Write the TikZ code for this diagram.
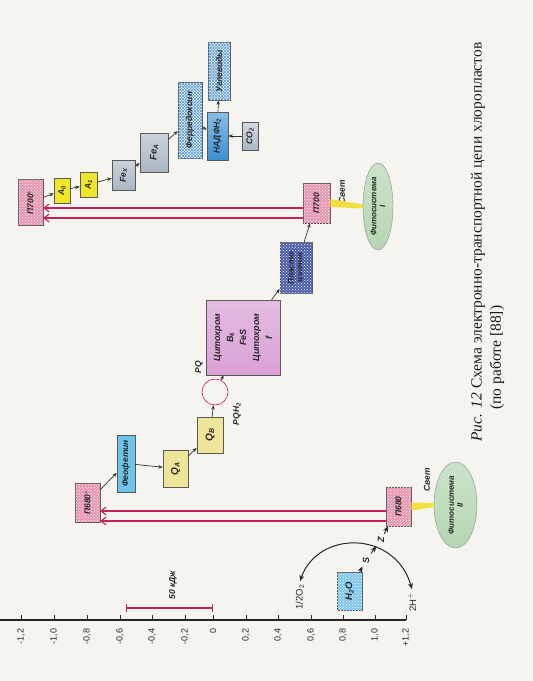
\documentclass[tikz,border=0pt]{standalone}
\usepackage{fontspec}
\setmainfont{Liberation Serif}
\newfontfamily\arialf{Liberation Sans}
\usetikzlibrary{arrows.meta,patterns,shapes.geometric,calc}
\definecolor{bgc}{HTML}{F6F4EE}
\definecolor{pinkc}{HTML}{E894AE}
\definecolor{magc}{HTML}{C8205A}
\definecolor{feoc}{HTML}{6EC3EA}
\definecolor{qc}{HTML}{EEE49A}
\definecolor{ac}{HTML}{F2E62A}
\definecolor{cytc}{HTML}{D9A0D6}
\definecolor{plcc}{HTML}{4A5CB0}
\definecolor{fec}{HTML}{A9B6C3}
\definecolor{fdc}{HTML}{5E9CCF}
\definecolor{nadc}{HTML}{3C8FD2}
\definecolor{h2oc}{HTML}{7CC6EE}
\definecolor{ellc}{HTML}{A9CFA5}
\definecolor{beamc}{HTML}{F2E040}
\tikzset{
 box/.style={draw=black!65, line width=0.5pt, rotate=90, inner sep=1pt, align=center,
   font=\arialf\bfseries\itshape\fontsize{8.5}{9}\selectfont, text=black!85},
 sz/.style 2 args={minimum height=#1, minimum width=#2},
 dotbox/.style={fill=#1, postaction={pattern=crosshatch dots, pattern color=white}},
 hatchbox/.style={fill=fdc!15, postaction={pattern=north east lines, pattern color=fdc},
   postaction={pattern=north west lines, pattern color=fdc}},
 arr/.style={-{Stealth[length=4.5pt,width=3.5pt]}, line width=0.7pt, black!80},
 bigarr/.style={-{Stealth[length=6pt,width=5pt]}, line width=0.9pt, black!85},
 mag/.style={draw=magc, line width=1.1pt, -{Straight Barb[length=5pt,width=8pt]}},
 lbl/.style={rotate=90, font=\arialf\bfseries\itshape\fontsize{8.5}{9}\selectfont, text=black!85},
 ax/.style={rotate=90, anchor=east, font=\arialf\fontsize{9}{10}\selectfont, text=black!85},
 ell/.style={ellipse, draw=black!45, rotate=90, inner sep=0pt, align=center,
   top color=ellc!60, bottom color=ellc!100!black!85,
   font=\arialf\bfseries\itshape\fontsize{8}{9}\selectfont, text=black!85},
 captxt/.style={rotate=90, anchor=west, font=\fontsize{15.5}{16}\selectfont, text=black!90}
}
\begin{document}
\begin{tikzpicture}[x=1pt,y=-1pt]
\fill[bgc] (0,0) rectangle (533,681);
\useasboundingbox (0,0) rectangle (533,681);

% axis
\draw[line width=1.1pt, black!85] (0,620) -- (406,620);
\foreach \x/\t in {21/{-1,2},54/{-1,0},87/{-0,8},120/{-0,6},152/{-0,4},185/{-0,2},213/0,
  246/{0,2},278/{0,4},311/{0,6},343/{0,8},375/{1,0},406/{+1,2}}{
  \draw[line width=0.9pt, black!85] (\x,620) -- (\x,615);
  \node[ax] at (\x,625) {\t};
}
% scale bar
\coordinate (sb1) at (126,608);
\coordinate (sb2) at (213,608);
\draw[draw=magc, line width=1.1pt, {Bar[width=8pt]}-{Bar[width=8pt]}] (sb1) -- (sb2);
\node[lbl] at (173,585) {50 кДж};

% PS II chain
\node[box, sz={25}{39}, dotbox=pinkc] (p680s) at (87.5,502.5) {П680$^{*}$};
\node[box, sz={18}{57}, fill=feoc] (feo) at (126,463.5) {Феофетин};
\node[box, sz={25}{37}, fill=qc, font=\arialf\bfseries\itshape\fontsize{10}{11}\selectfont] (qa) at (175.5,468.5) {Q\textsubscript{A}};
\node[box, sz={26}{36}, fill=qc, font=\arialf\bfseries\itshape\fontsize{10}{11}\selectfont] (qb) at (210,435) {Q\textsubscript{B}};
\node[circle, draw=magc, line width=0.6pt, minimum size=26pt, inner sep=0pt] (pq) at (215,392) {};
\node[lbl] (pql) at (199,367) {PQ};
\node[lbl] (pqh) at (237,414) {PQH\textsubscript{2}};
\node[box, sz={74}{75}, top color=cytc!70, bottom color=cytc, font=\arialf\bfseries\itshape\fontsize{9}{13}\selectfont] (cyt) at (243,337.5)
  {Цитохром\\B\textsubscript{6}\\FeS\\Цитохром\\f};
\node[box, sz={32}{51}, dotbox=plcc, font=\arialf\bfseries\itshape\fontsize{8}{8.5}\selectfont] (plc) at (296,267.5) {Пласто-\\цианин};
\node[box, sz={27}{40}, dotbox=pinkc] (p700) at (316.5,203) {П700};
\node[ell, minimum width=87pt, minimum height=30pt] (ps1) at (378,206.5) {Фитосистема\\I};
\node[lbl] (svet1) at (342,192) {Свет};

% PS I chain
\node[box, sz={25}{46}, dotbox=pinkc] (p700s) at (30.5,202) {П700$^{*}$};
\node[box, sz={16}{25}, fill=ac] (a0) at (62,190.5) {A\textsubscript{0}};
\node[box, sz={17}{25}, fill=ac] (a1) at (88.5,184.5) {A\textsubscript{1}};
\node[box, sz={23}{30}, top color=fec!60, bottom color=fec] (fex) at (123.5,175) {Fe\textsubscript{X}};
\node[box, sz={28}{39}, top color=fec!60, bottom color=fec, font=\arialf\bfseries\itshape\fontsize{9.5}{10}\selectfont] (fea) at (154,152.5) {Fe\textsubscript{A}};
\node[box, sz={24}{76}, hatchbox] (fd) at (190,120) {Ферредоксин};
\node[box, sz={21}{48}, top color=nadc!60, bottom color=nadc] (nad) at (217.5,136) {НАДФН\textsubscript{2}};
\node[box, sz={22}{58}, hatchbox] (ugl) at (219,71) {Углеводы};
\node[box, sz={16}{28}, top color=fec!50, bottom color=fec] (co2) at (250,136) {CO\textsubscript{2}};

% PS II lower
\node[box, sz={25}{39}, dotbox=pinkc] (p680) at (398.5,506.5) {П680};
\node[ell, minimum width=86pt, minimum height=43pt] (ps2) at (455.5,505) {Фитосистема\\II};
\node[lbl] (svet2) at (427,480) {Свет};
\node[box, sz={25}{38}, dotbox=h2oc, font=\arialf\bfseries\itshape\fontsize{9.5}{10}\selectfont] (h2o) at (349.5,591) {H\textsubscript{2}O};
\node[lbl, font=\arialf\bfseries\itshape\fontsize{9}{10}\selectfont] (s) at (366,560) {S};
\node[lbl, font=\arialf\bfseries\itshape\fontsize{9}{10}\selectfont] (z) at (381,540) {Z};
\node[lbl, font=\arialf\fontsize{9.5}{10}\selectfont] (o2) at (300,597) {1/2O\textsubscript{2}};
\node[lbl, font=\arialf\fontsize{9.5}{10}\selectfont] (hp) at (412,602) {2H$^{+}$};

% light beams
\fill[beamc] ($(ps1.north)+(0,-2)$) -- ($(ps1.north)+(0,2)$) -- ($(p700.south)+(0,4)$) -- ($(p700.south)+(0,-4)$) -- cycle;
\fill[beamc] ($(ps2.north)+(0,-2)$) -- ($(ps2.north)+(0,2)$) -- ($(p680.south)+(0,4)$) -- ($(p680.south)+(0,-4)$) -- cycle;

% magenta excitation arrows
\coordinate (m1) at (0,511);
\coordinate (m2) at (0,521);
\coordinate (m3) at (0,208);
\coordinate (m4) at (0,218);
\draw[mag] (p680.north |- m1) -- (p680s.south |- m1);
\draw[mag] (p680.north |- m2) -- (p680s.south |- m2);
\draw[mag] (p700.north |- m3) -- (p700s.south |- m3);
\draw[mag] (p700.north |- m4) -- (p700s.south |- m4);

% electron transfer arrows
\draw[arr] (p680s) -- (feo);
\draw[arr] (feo) -- (qa);
\draw[arr] (qa) -- (qb);
\draw[arr] (qb) -- (pq);
\draw[arr] (pq) -- (cyt);
\draw[arr] (cyt) -- (plc);
\draw[arr] (plc) -- (p700);
\draw[arr] (p700s) -- (a0);
\draw[arr] (a0) -- (a1);
\draw[arr] (a1) -- (fex);
\draw[arr] (fex) -- (fea);
\draw[arr] (fea) -- (fd);
\draw[arr] (fd) -- (nad);
\draw[arr] (nad) -- (ugl);
\draw[arr] (co2) -- (nad);
\draw[bigarr] (h2o) -- (s);
\draw[bigarr] (s) -- (z);
\draw[bigarr] (z) -- (p680);
\draw[line width=1pt, black!85, {Stealth[length=6pt,width=5pt]}-{Stealth[length=6pt,width=5pt]}]
  (o2.east) .. controls (318,530) and (395,530) .. (hp.east);

% caption
\node[captxt] at (478,445) {\textit{Рис. 12} Схема электронно-транспортной цепи хлоропластов};
\node[captxt] at (497,413) {(по работе [88])};
\end{tikzpicture}
\end{document}
